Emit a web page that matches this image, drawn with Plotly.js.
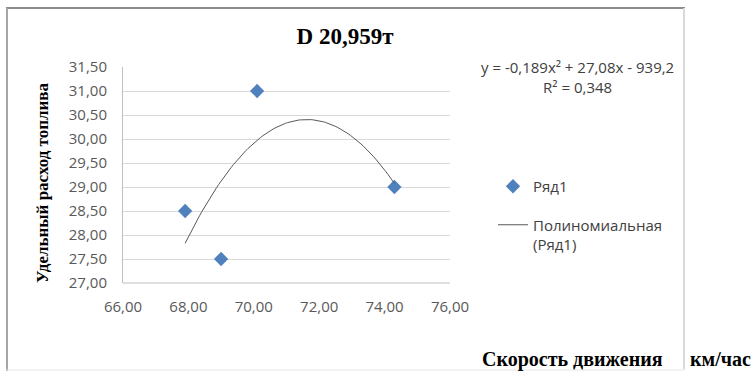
<!DOCTYPE html>
<html>
<head>
<meta charset="utf-8">
<script src="https://cdn.plot.ly/plotly-3.0.1.min.js"></script>
<style>html,body{margin:0;padding:0;background:#fff;}#chart{width:755px;height:371px;}</style>
</head>
<body>
<div id="chart"></div>
<script>
// Data
const speed = [67.9, 69.0, 70.1, 74.3];      // км/час
const fuel  = [28.5, 27.5, 31.0, 29.0];      // удельный расход топлива
const seriesName = "Ряд1";
const trendName = "Полиномиальная<br>(Ряд1)";
const chartTitle = "D 20,959т";
const equationText = "y = -0,189x² + 27,08x - 939,2<br>R² = 0,348";
const yTickVals = [27, 27.5, 28, 28.5, 29, 29.5, 30, 30.5, 31, 31.5];
const xTickVals = [66, 68, 70, 72, 74, 76];

// Least-squares quadratic fit (as Excel's polynomial trendline)
function polyfit2(xs, ys) {
  let S = [0,0,0,0,0], T = [0,0,0];
  for (let i = 0; i < xs.length; i++) {
    let p = 1;
    for (let k = 0; k < 5; k++) { S[k] += p; if (k < 3) T[k] += p * ys[i]; p *= xs[i]; }
  }
  const A = [[S[0],S[1],S[2],T[0]],[S[1],S[2],S[3],T[1]],[S[2],S[3],S[4],T[2]]];
  for (let c = 0; c < 3; c++) {
    for (let r = c + 1; r < 3; r++) {
      const f = A[r][c] / A[c][c];
      for (let k = c; k < 4; k++) A[r][k] -= f * A[c][k];
    }
  }
  const coef = [0,0,0];
  for (let r = 2; r >= 0; r--) {
    let s = A[r][3];
    for (let k = r + 1; k < 3; k++) s -= A[r][k] * coef[k];
    coef[r] = s / A[r][r];
  }
  return coef; // c0 + c1 x + c2 x^2
}
const cf = polyfit2(speed, fuel);
const xmin = Math.min(...speed), xmax = Math.max(...speed);
const trendX = [], trendY = [];
for (let i = 0; i <= 100; i++) {
  const x = xmin + (xmax - xmin) * i / 100;
  trendX.push(x); trendY.push(cf[0] + cf[1] * x + cf[2] * x * x);
}

const fmt = v => v.toFixed(2).replace('.', ',');

const traces = [
  {x: speed, y: fuel, type: 'scatter', mode: 'markers', name: seriesName,
   marker: {symbol: 'diamond', size: 11, color: '#4F81BD'}, legendgroup: 'a'},
  {x: trendX, y: trendY, type: 'scatter', mode: 'lines', name: trendName,
   line: {color: '#595959', width: 1}, legendgroup: 'b'}
];

const sans = 'Open Sans, Calibri, sans-serif';
const tickFont = {family: sans, size: 15, color: '#595959'};
const serif = 'Liberation Serif, Times New Roman, serif';

const layout = {
  width: 755, height: 371,
  margin: {l: 123, r: 305, t: 67, b: 88},
  paper_bgcolor: '#fff', plot_bgcolor: '#fff',
  showlegend: true,
  title: {text: '<b>' + chartTitle + '</b>', font: {family: serif, size: 23, color: '#000'},
          x: 345/755, xanchor: 'center', y: 1 - 36/371, yanchor: 'middle'},
  xaxis: {range: [66, 76], tickvals: xTickVals, ticktext: xTickVals.map(fmt),
          showgrid: false, zeroline: false, showline: false, ticks: '',
          tickfont: tickFont, ticklabelstandoff: 13},
  yaxis: {range: [27, 31.5], tickvals: yTickVals, ticktext: yTickVals.map(fmt),
          showgrid: true, gridcolor: '#d9d9d9', gridwidth: 1, zeroline: false,
          showline: true, linecolor: '#bfbfbf', linewidth: 1, ticks: '',
          tickfont: tickFont, ticklabelstandoff: 12},
  legend: {x: (493 - 123) / 327, xanchor: 'left', y: (283 - 170) / 216, yanchor: 'top',
           font: {family: sans, size: 15, color: '#404040'}, valign: 'top',
           traceorder: 'grouped', tracegroupgap: 16, bgcolor: 'rgba(0,0,0,0)'},
  annotations: [
    {text: equationText, xref: 'paper', yref: 'paper',
     x: (577 - 123) / 327, y: (283 - 77) / 216, xanchor: 'center', yanchor: 'middle',
     showarrow: false, align: 'center',
     font: {family: sans, size: 15, color: '#404040'}},
    {text: '<b>Удельный расход топлива</b>', xref: 'paper', yref: 'paper',
     x: (42 - 123) / 327, y: (283 - 183) / 216, textangle: -90,
     xanchor: 'center', yanchor: 'middle', showarrow: false,
     font: {family: serif, size: 17, color: '#000'}},
    {text: '<b>Скорость движения</b>', xref: 'paper', yref: 'paper',
     x: (572 - 123) / 327, y: (283 - 359) / 216, xanchor: 'center', yanchor: 'middle',
     showarrow: false, font: {family: serif, size: 20, color: '#000'}},
    {text: '<b>км/час</b>', xref: 'paper', yref: 'paper',
     x: (720 - 123) / 327, y: (283 - 359) / 216, xanchor: 'center', yanchor: 'middle',
     showarrow: false, font: {family: serif, size: 20, color: '#000'}}
  ],
  shapes: [
    // bottom axis line of plot area
    {type: 'line', xref: 'paper', yref: 'paper', x0: 0, x1: 1, y0: 0, y1: 0,
     line: {color: '#bfbfbf', width: 1}},
    // chart border
    {type: 'line', xref: 'paper', yref: 'paper', x0: (6-123)/327, x1: (685-123)/327,
     y0: (283-8)/216, y1: (283-8)/216, line: {color: '#8c8c8c', width: 2}},
    {type: 'line', xref: 'paper', yref: 'paper', x0: (7-123)/327, x1: (7-123)/327,
     y0: (283-8)/216, y1: (283-371)/216, line: {color: '#a6a6a6', width: 2}},
    {type: 'line', xref: 'paper', yref: 'paper', x0: (684-123)/327, x1: (684-123)/327,
     y0: (283-8)/216, y1: (283-369)/216, line: {color: '#d9d9d9', width: 2}},
    {type: 'line', xref: 'paper', yref: 'paper', x0: (6-123)/327, x1: (685-123)/327,
     y0: (283-370)/216, y1: (283-370)/216, line: {color: '#e6e6e6', width: 1}}
  ]
};

Plotly.newPlot('chart', traces, layout, {displayModeBar: false, staticPlot: true});
</script>
</body>
</html>
